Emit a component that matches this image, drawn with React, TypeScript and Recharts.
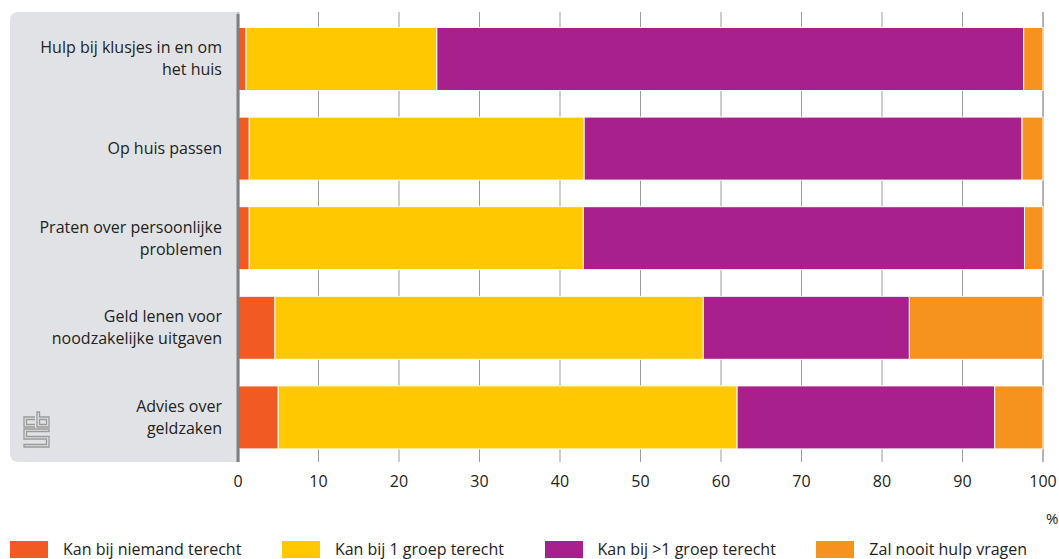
import React from "react";
import { BarChart, Bar, XAxis, YAxis, CartesianGrid } from "recharts";

const categories = [
  "Hulp bij klusjes in en om\nhet huis",
  "Op huis passen",
  "Praten over persoonlijke\nproblemen",
  "Geld lenen voor\nnoodzakelijke uitgaven",
  "Advies over\ngeldzaken",
];

const seriesNames = [
  "Kan bij niemand terecht",
  "Kan bij 1 groep terecht",
  "Kan bij >1 groep terecht",
  "Zal nooit hulp vragen",
];

const niemand = [1.0, 1.4, 1.4, 4.6, 5.0];
const eenGroep = [23.7, 41.6, 41.5, 53.2, 57.0];
const meerGroepen = [72.9, 54.4, 54.8, 25.6, 32.0];
const nooit = [2.4, 2.6, 2.3, 16.6, 6.0];

const xTicks = [0, 10, 20, 30, 40, 50, 60, 70, 80, 90, 100];

const colors = ["#f15a22", "#ffc800", "#a8208c", "#f5931e"];
const keys = ["niemand", "een", "meer", "nooit"];
const FONT = "'Open Sans', sans-serif";

const data = categories.map((c, i) => ({
  name: c,
  niemand: niemand[i],
  een: eenGroep[i],
  meer: meerGroepen[i],
  nooit: nooit[i],
}));

function CategoryTick(props: any) {
  const { x, y, payload } = props;
  const lines: string[] = String(payload.value).split("\n");
  const lh = 22;
  const start = y - ((lines.length - 1) * lh) / 2;
  return (
    <text x={x} y={start} textAnchor="end" fill="#222" fontSize={16} fontFamily={FONT}>
      {lines.map((l, i) => (
        <tspan key={i} x={x} y={start + i * lh} dy="0.35em">
          {l}
        </tspan>
      ))}
    </text>
  );
}

function CbsLogo() {
  const s = "#9a9a9a";
  return (
    <svg width={30} height={40} style={{ position: "absolute", left: 22, top: 410 }}>
      <g fill="none" stroke={s} strokeWidth={1.3}>
        {/* c */}
        <path d="M13 7 H2 V17 H13" />
        <path d="M13 9.5 H4.5 V14.5 H13" />
        {/* b */}
        <path d="M15 2 V17 H27 V7 H17.5 V2 Z" />
        <path d="M17.5 9.5 H24.5 V14.5 H17.5 Z" />
        {/* s */}
        <path d="M27 19 H2 V29 H24.5 V34.5 H2 V37 H27 V26.5 H4.5 V21.5 H27 Z" />
      </g>
    </svg>
  );
}

export default function App() {
  return (
    <div
      style={{
        position: "absolute",
        left: 0,
        top: 0,
        width: 1059,
        height: 559,
        background: "#fff",
        fontFamily: FONT,
        overflow: "hidden",
      }}
    >
      <div
        style={{
          position: "absolute",
          left: 10,
          top: 12,
          width: 230,
          height: 450,
          background: "#e1e2e5",
          borderRadius: "8px 0 0 8px",
        }}
      />
      <CbsLogo />
      <div style={{ position: "absolute", left: 0, top: 0 }}>
        <BarChart
          width={1059}
          height={500}
          data={data}
          layout="vertical"
          margin={{ top: 14, right: 16, bottom: 8, left: 10 }}
          barCategoryGap={13.5}
        >
          <CartesianGrid horizontal={false} stroke="#9b9b9b" strokeWidth={1} y={12} height={450} />
          <XAxis
            type="number"
            domain={[0, 100]}
            ticks={xTicks}
            axisLine={false}
            tickLine={false}
            tickSize={0}
            tickMargin={14}
            height={30}
            tick={{ fill: "#222", fontSize: 16, fontFamily: FONT }}
            interval={0}
          />
          <YAxis
            type="category"
            dataKey="name"
            width={228}
            axisLine={{ stroke: "#7d7f81", strokeWidth: 3 }}
            tickLine={false}
            tickSize={0}
            tickMargin={16}
            tick={<CategoryTick />}
            interval={0}
          />
          {keys.map((k, i) => (
            <Bar
              key={k}
              dataKey={k}
              name={seriesNames[i]}
              stackId="a"
              fill={colors[i]}
              stroke="#ffffff"
              strokeWidth={1}
              isAnimationActive={false}
            />
          ))}
        </BarChart>
      </div>
      <div
        style={{
          position: "absolute",
          left: 1046,
          top: 508,
          fontSize: 15,
          color: "#222",
        }}
      >
        %
      </div>
      <div
        style={{
          position: "absolute",
          left: 10,
          top: 538,
          display: "flex",
          gap: 40.5,
          fontSize: 16,
          color: "#222",
          whiteSpace: "nowrap",
        }}
      >
        {seriesNames.map((n, i) => (
          <div key={n} style={{ display: "flex", alignItems: "center" }}>
            <span
              style={{
                display: "inline-block",
                width: 38,
                height: 17,
                background: colors[i],
                marginRight: 15,
              }}
            />
            {n}
          </div>
        ))}
      </div>
    </div>
  );
}
